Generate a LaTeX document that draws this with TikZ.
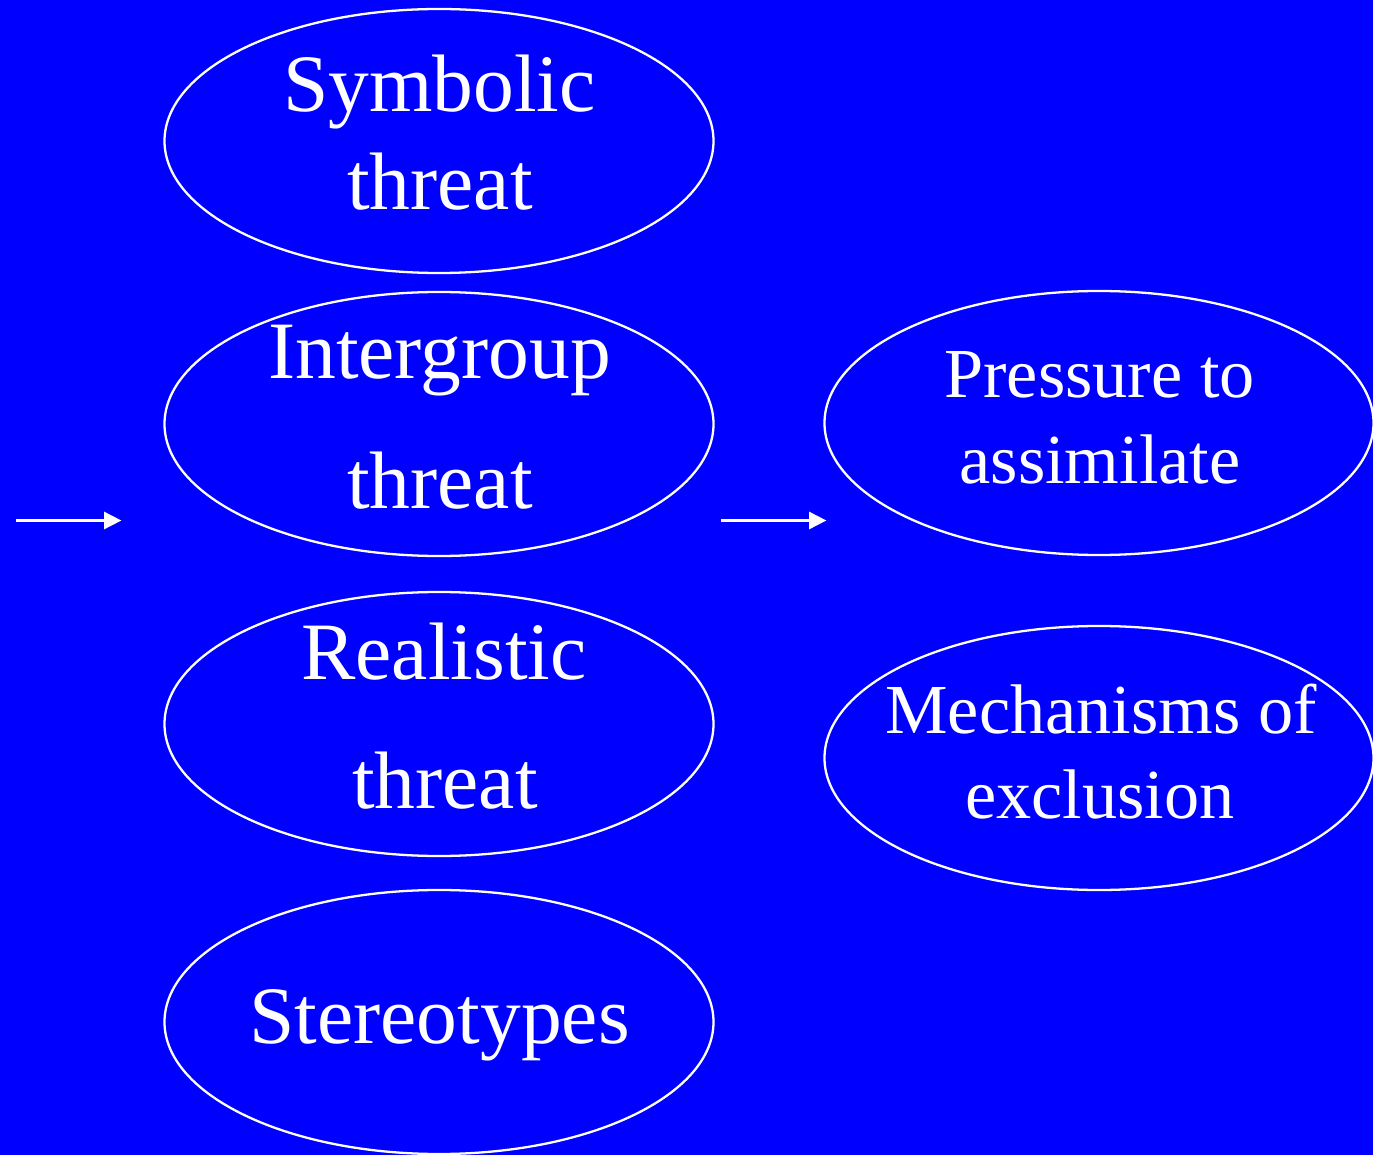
\documentclass[tikz,border=0pt]{standalone}
\usepackage{fontspec}
\setmainfont{Liberation Serif}
\usetikzlibrary{arrows.meta,shapes.geometric}
\definecolor{slideblue}{RGB}{0,0,255}
\begin{document}
\begin{tikzpicture}[x=0.02cm,y=-0.02cm,
  oval/.style={ellipse, draw=white, line width=1.3pt, inner sep=0pt,
               minimum width=549*0.02cm, minimum height=264*0.02cm},
  bigtext/.style={text=white, anchor=base, inner sep=0pt,
                  font=\fontsize{46.4}{55}\selectfont},
  midtext/.style={text=white, anchor=base, inner sep=0pt,
                  font=\fontsize{40}{48}\selectfont},
  flow/.style={draw=white, line width=1.7pt,
               -{Triangle[length=0.35cm,width=0.34cm]}}]
  % background
  \fill[slideblue] (0,0) rectangle (1373,1155);
  \useasboundingbox (0,0) rectangle (1373,1155);

  % threat components
  \node[oval] (sym)    at (439,141)  {};
  \node[oval] (inter)  at (439,424)  {};
  \node[oval] (real)   at (439,724)  {};
  \node[oval] (stereo) at (439,1022) {};
  % outcomes
  \node[oval] (press)  at (1099,423) {};
  \node[oval] (mech)   at (1099,758) {};

  % labels
  \node[bigtext] (symA)   at (439.5,112)  {Symbolic};
  \node[bigtext] (symB)   at (440,210)    {threat};
  \node[bigtext] (interA) at (439.5,379)  {Intergroup};
  \node[bigtext] (interB) at (440,508)    {threat};
  \node[bigtext] (realA)  at (444,679)    {Realistic};
  \node[bigtext] (realB)  at (445,808)    {threat};
  \node[bigtext] (stereoA) at (439.5,1043) {Stereotypes};
  \node[midtext] (pressA) at (1099.5,398) {Pressure to};
  \node[midtext] (pressB) at (1100,483)   {assimilate};
  \node[midtext] (mechA)  at (1101,733)   {Mechanisms of};
  \node[midtext] (mechB)  at (1100,818)   {exclusion};

  % flow arrows
  \coordinate (inS)  at (16,520.5);
  \coordinate (inE)  at (121.5,520.5);
  \coordinate (outS) at (721,520.5);
  \coordinate (outE) at (826.5,520.5);
  \draw[flow] (inS) -- (inE);
  \draw[flow] (outS) -- (outE);
\end{tikzpicture}
\end{document}
